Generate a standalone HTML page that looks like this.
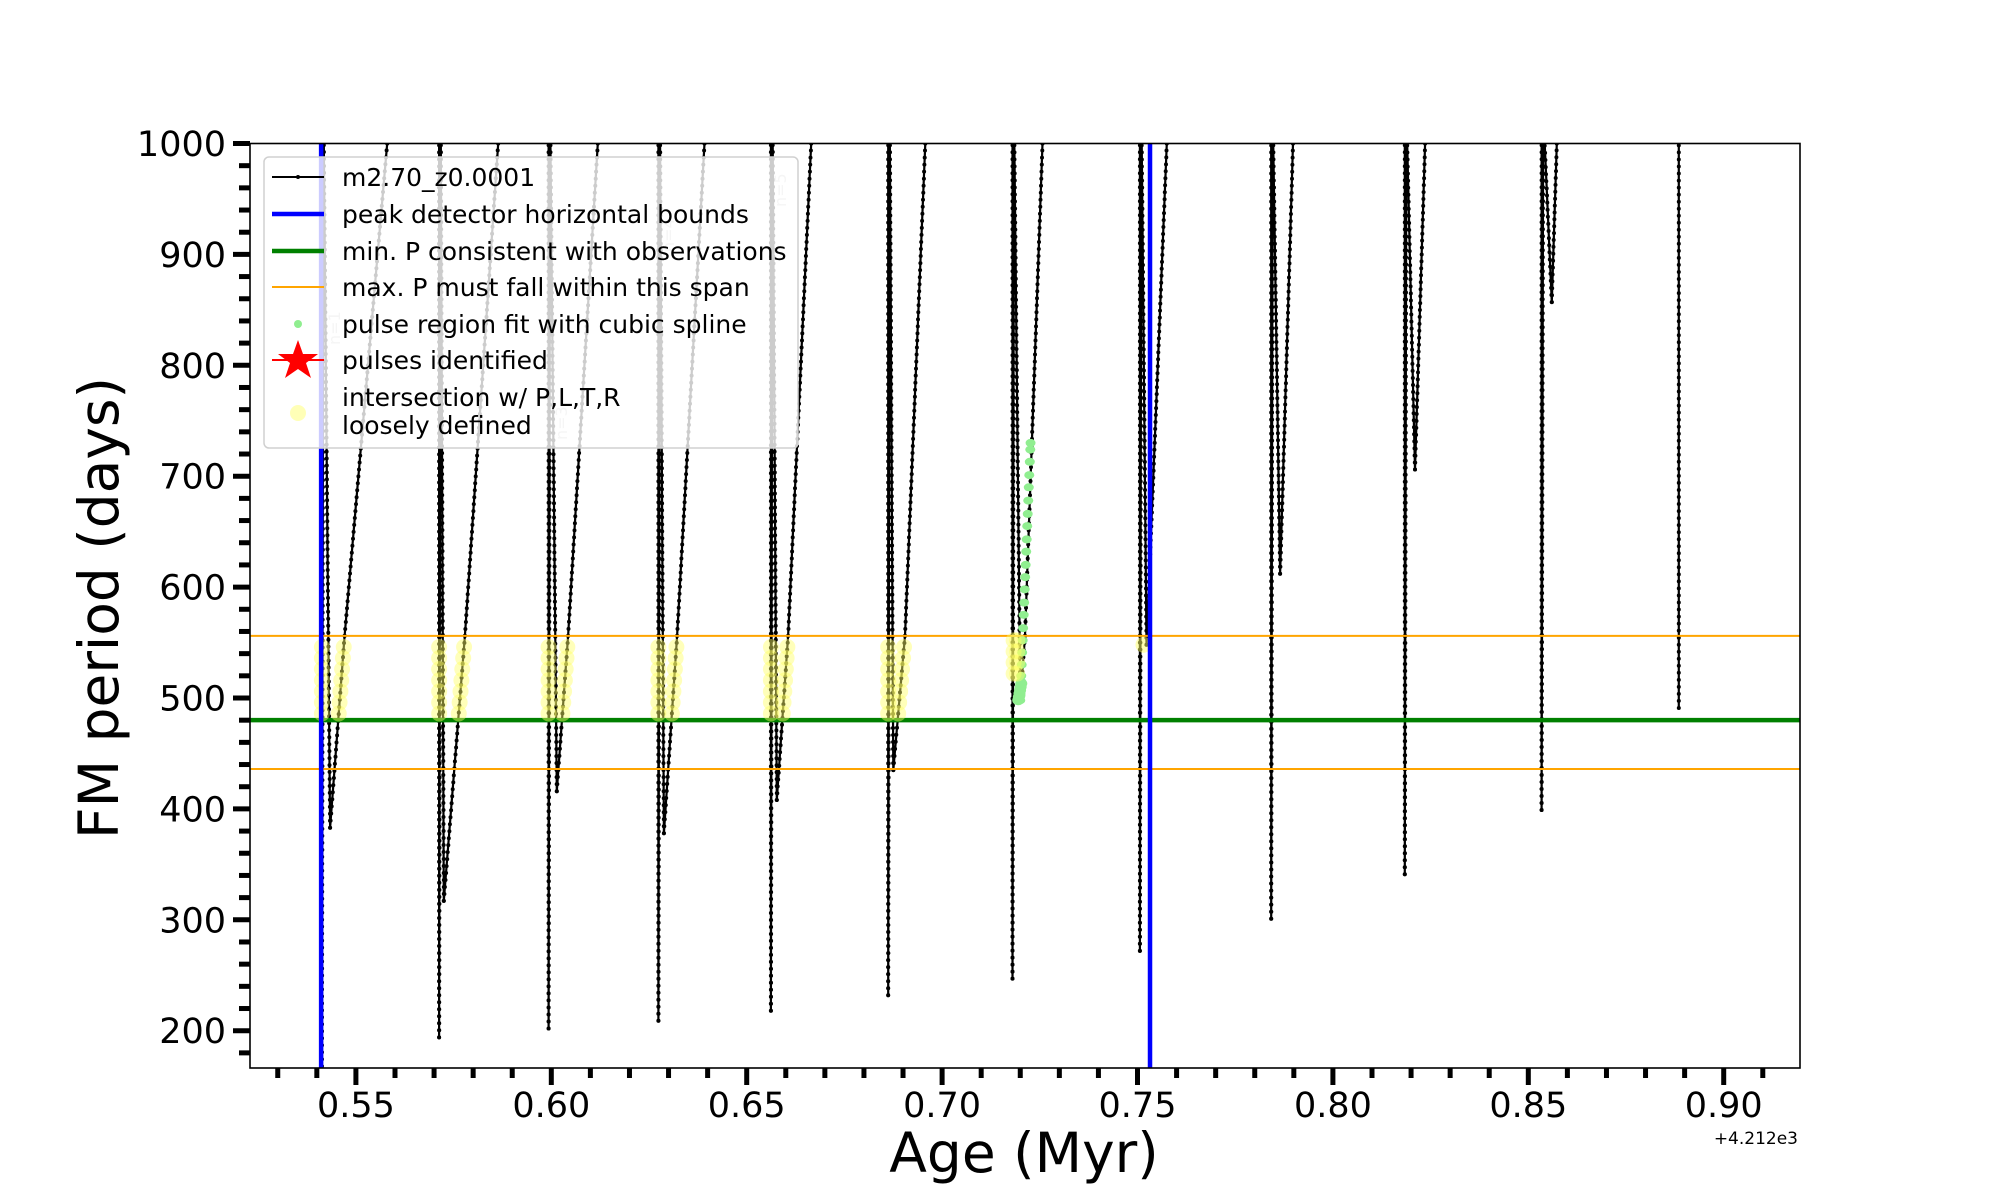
<!DOCTYPE html>
<html><head><meta charset="utf-8">
<style>
html,body{margin:0;padding:0;background:#fff;}
svg{display:block;font-family:"DejaVu Sans","Liberation Sans",sans-serif;}
</style></head>
<body>
<svg id="chart" width="2000" height="1200" viewBox="0 0 2000 1200" xmlns="http://www.w3.org/2000/svg">
<defs><clipPath id="plotclip"><rect x="250" y="143.5" width="1550" height="924.5"/></clipPath></defs>
<rect x="0" y="0" width="2000" height="1200" fill="#fff"/>
<g id="data-layer" clip-path="url(#plotclip)"></g>
<g id="axes-layer"></g>
<g id="legend-layer"></g>
</svg>
<script>
// ---- data (Age offset from 4212 Myr, FM period in days) ----
const descAge = [0.5413,0.5713,0.5993,0.6274,0.6562,0.6862,0.7180,0.7506,0.7842,0.8184,0.8534,0.8885];
const minP    = [168,194,202,209,218,232,247,272,301,341,399,491];
const hookAge = [0.5434,0.5725,0.6014,0.6288,0.6577,0.6875,0.7200,0.7523,0.7865,0.8210,0.8560,null];
const hookP   = [383,317,416,378,408,435,498,548,612,706,857,null];
const midAge  = [0.5471,0.5779,0.6043,0.6322,0.6606,0.6905,0.7212,null,null,null,null,null];
const midP    = [556,556,556,556,556,556,556,null,null,null,null,null];
const topAge  = [0.5580,0.5864,0.6119,0.6392,0.6665,0.6957,0.7257,0.7575,0.7898,0.8236,0.8573,null];
const greenP  = [498,502,506,510,515,520,530,541,552,563,575,586,598,609,620,632,643,655,666,678,690,701,713,724,730];
const yellowP = [486,496,506,516,526,536,546];
const boundAges = [0.5411,0.7532];
const minObsP = 480;
const spanP = [436,556];
const xTicks = [0.55,0.60,0.65,0.70,0.75,0.80,0.85,0.90];
const xTickLabels = ["0.55","0.60","0.65","0.70","0.75","0.80","0.85","0.90"];
const yTicks = [200,300,400,500,600,700,800,900,1000];
const yTickLabels = ["200","300","400","500","600","700","800","900","1000"];

const NS="http://www.w3.org/2000/svg";
const X0=250,X1=1800,Y0=143.5,Y1=1068;
const AMIN=0.5229, AMAX=0.5229+(X1-X0)/3908;
const PMAX=1000, PMIN=1000-(Y1-Y0)/1.109;
function X(a){return X0+(a-AMIN)/(AMAX-AMIN)*(X1-X0);}
function Y(p){return Y0+(PMAX-p)/(PMAX-PMIN)*(Y1-Y0);}
function mk(tag,attrs,parent){const e=document.createElementNS(NS,tag);for(const k in attrs)e.setAttribute(k,attrs[k]);parent.appendChild(e);return e;}
const dataL=document.getElementById('data-layer');
const axL=document.getElementById('axes-layer');
const legL=document.getElementById('legend-layer');

// build the black track
const track=[];
for(let i=0;i<descAge.length;i++){
  const pts=[];
  pts.push([descAge[i],1030]);
  pts.push([descAge[i],minP[i]]);
  if(hookAge[i]!==null){
    pts.push([descAge[i]+0.0004,1030]);
    pts.push([hookAge[i],hookP[i]]);
    if(midAge[i]!==null) pts.push([midAge[i],midP[i]]);
    pts.push([topAge[i],1000]);
    pts.push([topAge[i]+(topAge[i]-hookAge[i])*0.03,1030]);
  }
  track.push(pts);
}
const lineG=mk('g',{},dataL);


track.forEach((pts,i)=>{
  const d=pts.map((p,j)=>(j?'L':'M')+X(p[0]).toFixed(1)+','+Y(p[1]).toFixed(1)).join(' ');
  const pl=mk('path',{d:d,fill:'none',stroke:'#000','stroke-width':2.2},lineG);
  
  
  for(let j=1;j<pts.length;j++){
    const xa=X(pts[j-1][0]),ya=Y(pts[j-1][1]),xb=X(pts[j][0]),yb=Y(pts[j][1]);
    const L=Math.hypot(xb-xa,yb-ya),n=Math.max(1,Math.round(L/7));
    for(let k=0;k<=n;k++){
      mk('circle',{cx:(xa+(xb-xa)*k/n).toFixed(1),cy:(ya+(yb-ya)*k/n).toFixed(1),r:2,fill:'#000'},lineG);
    }
  }
});

// horizontal reference lines
[spanP[0],spanP[1]].forEach((p,i)=>{
  const l=mk('line',{x1:X0,x2:X1,y1:Y(p),y2:Y(p),stroke:'#ffa500','stroke-width':2},dataL);
  
  
});
const gl=mk('line',{x1:X0,x2:X1,y1:Y(minObsP),y2:Y(minObsP),stroke:'#008000','stroke-width':4.5},dataL);



// green spline points (pulse 7)
const gG=mk('g',{},dataL);


greenP.forEach(p=>{
  const i=6;
  const a=hookAge[i]+(p-hookP[i])/(1000-hookP[i])*(topAge[i]-hookAge[i]);
  const c=mk('ellipse',{cx:X(a),cy:Y(p),rx:5,ry:4,fill:'#90ee90'},gG);
  
  
});
for(let k=0;k<6;k++){mk('ellipse',{cx:X(hookAge[6])-2+k*0.6,cy:Y(hookP[6]+k*3),rx:6,ry:5,fill:'#90ee90'},gG);}

// yellow intersection markers
const yG=mk('g',{},dataL);


function riseAge(i,p){
  if(midAge[i]!==null && p<=midP[i]) return hookAge[i]+(p-hookP[i])/(midP[i]-hookP[i])*(midAge[i]-hookAge[i]);
  return hookAge[i]+(p-hookP[i])/(1000-hookP[i])*(topAge[i]-hookAge[i]);
}
for(let i=0;i<6;i++){
  yellowP.forEach(p=>{
    [descAge[i],riseAge(i,p)].forEach(a=>{
      const c=mk('circle',{cx:X(a),cy:Y(p),r:8,fill:'#ffff66','fill-opacity':0.45},yG);
      
      
    });
  });
}
[522,532,542,552].forEach(p=>{
  [descAge[6]+0.0003,descAge[6]+0.0012].forEach(a=>{
    const c=mk('circle',{cx:X(a),cy:Y(p),r:8,fill:'#ffff66','fill-opacity':0.45},yG);
    
    
  });
});
{const c=mk('circle',{cx:X(hookAge[7])-3,cy:Y(hookP[7]),r:8,fill:'#ffff66','fill-opacity':0.5},yG);

}

// vertical peak-detector bounds
boundAges.forEach((a,i)=>{
  const l=mk('line',{x1:X(a),x2:X(a),y1:Y0,y2:Y1,stroke:'#0000ff','stroke-width':4.5},dataL);
  
  
});

// axes frame
const fr=mk('rect',{x:X0,y:Y0,width:X1-X0,height:Y1-Y0,fill:'none',stroke:'#000','stroke-width':1.6},axL);


// x ticks
for(let m=53;m<=91;m++){
  const a=m/100,x=X(a);
  if(x<X0-1||x>X1+1)continue;
  const major=(m%5===0);
  mk('line',{x1:x,x2:x,y1:Y1,y2:Y1+(major?17:10),stroke:'#000','stroke-width':5},axL);
}
xTicks.forEach((a,i)=>{
  const t=mk('text',{x:X(a),y:1117,'font-size':35,'text-anchor':'middle',fill:'#000'},axL);
  t.textContent=xTickLabels[i];
  
  
});
// y ticks
for(let p=180;p<=1000;p+=20){
  const y=Y(p); if(y>Y1+1)continue;
  const major=(p%100===0);
  mk('line',{x1:X0,x2:X0-(major?17:11),y1:y,y2:y,stroke:'#000','stroke-width':5},axL);
}
yTicks.forEach((p,i)=>{
  const t=mk('text',{x:226,y:Y(p)+12.5,'font-size':35,'text-anchor':'end',fill:'#000'},axL);
  t.textContent=yTickLabels[i];
  
  
});
</script>
<svg style="position:absolute;left:0;top:0" width="2000" height="1200">
<text x="1024" y="1172" font-size="55" text-anchor="middle" font-family="DejaVu Sans, Liberation Sans, sans-serif">Age (Myr)</text>
<text transform="translate(118,608) rotate(-90)" font-size="55" text-anchor="middle" font-family="DejaVu Sans, Liberation Sans, sans-serif">FM period (days)</text>
<text x="1798" y="1144" font-size="17" text-anchor="end" font-family="DejaVu Sans, Liberation Sans, sans-serif">+4.212e3</text>
<g font-family="DejaVu Sans, Liberation Sans, sans-serif" font-size="16" fill="#cccccc">
<text transform="translate(340,345) rotate(-90)">n=1</text>
<text transform="translate(567,440) rotate(-90)">n=3</text>
<text transform="translate(674,252) rotate(-90)">n=4</text>
<text transform="translate(786,207) rotate(-90)">n=5</text>
</g>
<g>
<rect x="264" y="157" width="534" height="291" rx="5" fill="#fff" fill-opacity="0.8" stroke="#d0d0d0" stroke-width="1.5"/>
<g font-family="DejaVu Sans, Liberation Sans, sans-serif" font-size="25" fill="#000">
<g><line x1="272" x2="324" y1="177" y2="177" stroke="#000" stroke-width="2"/><circle cx="298" cy="177" r="2" fill="#000"/><text x="342" y="186">m2.70_z0.0001</text></g>
<g><line x1="272" x2="324" y1="214" y2="214" stroke="#0000ff" stroke-width="4.5"/><text x="342" y="223">peak detector horizontal bounds</text></g>
<g><line x1="272" x2="324" y1="251" y2="251" stroke="#008000" stroke-width="4.5"/><text x="342" y="260">min. P consistent with observations</text></g>
<g><line x1="272" x2="324" y1="287" y2="287" stroke="#ffa500" stroke-width="2"/><text x="342" y="296">max. P must fall within this span</text></g>
<g><circle cx="298" cy="324" r="4" fill="#90ee90"/><text x="342" y="333">pulse region fit with cubic spline</text></g>
<g><line x1="272" x2="324" y1="360" y2="360" stroke="#ff0000" stroke-width="2"/><polygon points="298,340 303,354 318,354 306,363 311,378 298,369 285,378 290,363 278,354 293,354" fill="#ff0000"/><text x="342" y="369">pulses identified</text></g>
<g><circle cx="298" cy="413" r="8" fill="#ffff99" fill-opacity="0.7"/><text x="342" y="406">intersection w/ P,L,T,R</text><text x="342" y="434">loosely defined</text></g>
</g>
</g>
</svg>
<style>body{position:relative;}</style>
</body></html>
